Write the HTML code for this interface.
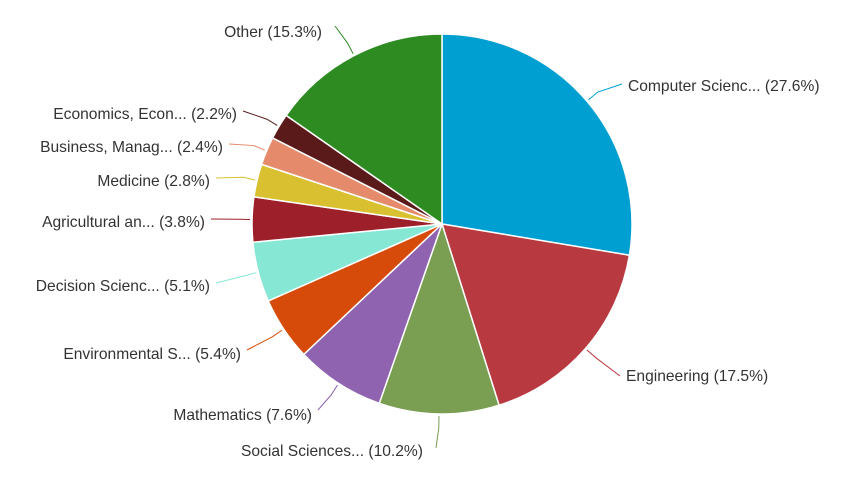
<!DOCTYPE html>
<html><head><meta charset="utf-8"><style>
html,body{margin:0;padding:0;background:#fff;width:850px;height:487px;overflow:hidden}
text{font-family:"Liberation Sans",sans-serif;font-size:15.6px;fill:#333}
</style></head><body>
<svg id="s" width="850" height="487" xmlns="http://www.w3.org/2000/svg">
<g id="sl"></g><g id="ln" fill="none" stroke-width="1"></g>
<text x="628" y="91">Computer Scienc... (27.6%)</text>
<text x="626" y="381">Engineering (17.5%)</text>
<text x="332" y="456" text-anchor="middle">Social Sciences... (10.2%)</text>
<text x="312" y="420" text-anchor="end">Mathematics (7.6%)</text>
<text x="241" y="359" text-anchor="end">Environmental S... (5.4%)</text>
<text x="210" y="291" text-anchor="end">Decision Scienc... (5.1%)</text>
<text x="205" y="227" text-anchor="end">Agricultural an... (3.8%)</text>
<text x="210" y="186" text-anchor="end">Medicine (2.8%)</text>
<text x="223" y="152" text-anchor="end">Business, Manag... (2.4%)</text>
<text x="237" y="119" text-anchor="end">Economics, Econ... (2.2%)</text>
<text x="322" y="37" text-anchor="end">Other (15.3%)</text>
</svg>
<script>
var cx=442,cy=224,r=190;
var d=[[27.6,"#009fd1",[622,84]],[17.5,"#b83a40",[620,376]],[10.2,"#7a9e52",[436,448]],[7.6,"#8f63b0",[318,410]],[5.4,"#d64b0a",[247,350]],[5.1,"#86e8d4",[216,283]],[3.8,"#9c1f2a",[211,219]],[2.8,"#d8c030",[216,178]],[2.4,"#e58a6a",[229,144]],[2.2,"#5a1a1a",[243,111]],[15.3,"#2e8b22",[335,26]]];
var tot=99.9,a=0,sl="",ln="";
function pt(ang,rr){return [cx+rr*Math.sin(ang),cy-rr*Math.cos(ang)];}
d.forEach(function(e){var a0=a/tot*2*Math.PI;a+=e[0];var a1=a/tot*2*Math.PI;
var p0=pt(a0,r),p1=pt(a1,r),lg=(a1-a0)>Math.PI?1:0;
sl+='<path d="M'+cx+','+cy+'L'+p0+'A'+r+','+r+' 0 '+lg+' 1 '+p1+'Z" fill="'+e[1]+'" stroke="#fff" stroke-width="1.5"/>';
var m=(a0+a1)/2,q1=pt(m,r+2),q2=pt(m,r+14);
ln+='<polyline points="'+q1+' '+q2+' '+e[2]+'" stroke="'+e[1]+'"/>';});
document.getElementById("sl").innerHTML=sl;document.getElementById("ln").innerHTML=ln;
</script>
</body></html>
